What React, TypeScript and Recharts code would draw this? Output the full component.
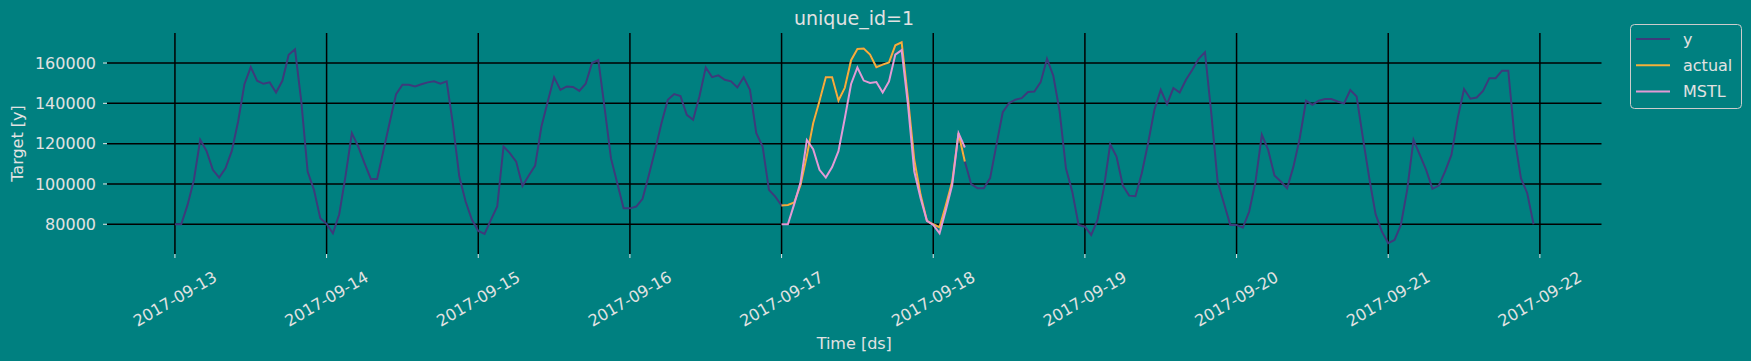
import React from 'react';
import { LineChart, Line, XAxis, YAxis, CartesianGrid, Legend } from 'recharts';

// ---------- data ----------
const seriesStart = '2017-09-13T00:00:00Z';
const forecastStart = '2017-09-17T00:00:00Z';

// hourly target values, 2017-09-13 00:00 .. 2017-09-21 23:00
const yValues: number[] = [
  // 09-13
  80000, 80000, 89600, 102000, 121900, 116400, 107000, 103200, 107800, 116400, 131000, 149500,
  158000, 151200, 149700, 150400, 145400, 151200, 164100, 166800, 140900, 106200, 97100, 83000,
  // 09-14
  80200, 75500, 85000, 104000, 125200, 118600, 110300, 102500, 102500, 116600, 130700, 144600,
  149200, 149200, 148400, 149500, 150400, 150900, 149700, 150900, 129400, 103700, 91300, 82200,
  // 09-15
  76700, 75200, 82200, 88800, 118600, 115300, 111100, 99000, 104200, 109100, 128500, 140900,
  152900, 146700, 148400, 148100, 146200, 149700, 160000, 161500, 137600, 112800, 100400, 87900,
  // 09-16
  87900, 88800, 92600, 104500, 116900, 130200, 141800, 144600, 143600, 134300, 131800, 143400,
  157800, 153000, 153900, 151700, 150900, 147900, 152900, 146700, 125200, 118600, 97100, 93700,
  // 09-17
  89300, 89600, 90800, 99500, 114000, 130100, 141200, 152900, 152900, 141400, 147700, 161400,
  167000, 167200, 164200, 157900, 159200, 160300, 168800, 170300, 142600, 112000, 94600, 81700,
  // 09-18
  80000, 78500, 89600, 101200, 125200, 111100, 99900, 97900, 97900, 102900, 119400, 135600,
  140100, 141800, 142600, 145600, 145900, 150500, 162100, 153700, 136000, 107800, 96200, 79700,
  // 09-19
  78800, 74700, 82200, 97900, 119700, 113600, 99200, 94200, 93900, 105300, 120200, 136800,
  146700, 139600, 147600, 145400, 151700, 156700, 162100, 165400, 135100, 101200, 90400, 79700,
  // 09-20
  79700, 78300, 86300, 101200, 124400, 116900, 104200, 101200, 97900, 108600, 122700, 141300,
  139300, 141300, 142100, 142100, 140900, 139900, 146600, 143400, 122700, 102900, 85000, 76400,
  // 09-21
  70600, 72200, 79700, 97100, 121900, 114400, 107000, 97600, 99200, 106200, 114400, 132700,
  147100, 142300, 142900, 146200, 152500, 152500, 156200, 156200, 122700, 102900, 95400, 80000,
];

// hourly actual values, 2017-09-17 00:00 .. 2017-09-18 05:00
const actualValues: number[] = [
  89300, 89600, 90800, 99500, 114000, 130100, 141200, 152900, 152900, 141400, 147700, 161400,
  167000, 167200, 164200, 157900, 159200, 160300, 168800, 170300, 142600, 112000, 94600, 81700,
  80000, 78500, 89600, 101200, 125200, 111100,
];

// hourly MSTL forecast, 2017-09-17 00:00 .. 2017-09-18 05:00
const mstlValues: number[] = [
  80000, 80000, 90000, 100800, 121800, 117300, 107000, 103200, 108400, 116300, 132500, 149600,
  157800, 151300, 150100, 150600, 145400, 150900, 164200, 166400, 139300, 106200, 92900, 81700,
  79700, 75500, 87100, 99500, 125200, 118100,
];

const xTickLabels = [
  '2017-09-13', '2017-09-14', '2017-09-15', '2017-09-16', '2017-09-17',
  '2017-09-18', '2017-09-19', '2017-09-20', '2017-09-21', '2017-09-22',
];
const yTickValues = [80000, 100000, 120000, 140000, 160000];

const seriesNames = ['y', 'actual', 'MSTL'];
const seriesColors = ['#3d3a7b', '#f2b13a', '#e39ad6'];

// ---------- build table ----------
const HOUR = 3600 * 1000;
const t0 = Date.parse(seriesStart);
const f0 = Date.parse(forecastStart);
const fIdx = Math.round((f0 - t0) / HOUR);

const rows = yValues.map((v, i) => {
  const j = i - fIdx;
  return {
    ds: t0 + i * HOUR,
    y: v,
    actual: j >= 0 && j < actualValues.length ? actualValues[j] : null,
    mstl: j >= 0 && j < mstlValues.length ? mstlValues[j] : null,
  };
});

const tFirst = rows[0].ds;
const tLast = rows[rows.length - 1].ds;
const pad = (tLast - tFirst) * 0.05;
const xDomain = [tFirst - pad, tLast + pad];
const xTicks = xTickLabels.map((s) => Date.parse(s + 'T00:00:00Z'));

const TEXT = '#e2e2e2';
const BG = '#008080';
const FONT = '"DejaVu Sans", sans-serif';

const fmtDate = (v: number) => new Date(v).toISOString().slice(0, 10);

const XTick = (props: any) => {
  const { x, y, payload } = props;
  const cy = y + 41;
  return (
    <text
      x={x}
      y={cy}
      fill={TEXT}
      fontSize={16}
      fontFamily={FONT}
      textAnchor="middle"
      dominantBaseline="central"
      transform={`rotate(-30, ${x}, ${cy})`}
    >
      {fmtDate(payload.value)}
    </text>
  );
};

const LegendBox = () => {
  const items = seriesNames.map((n, i) => ({ name: n, color: seriesColors[i] }));
  return (
    <svg width={112} height={86} style={{ display: 'block' }}>
      <rect x={0.5} y={0.5} width={111} height={84} rx={4} ry={4} fill={BG} stroke="#cccccc" strokeWidth={1} />
      {items.map((it, i) => {
        const cy = 15 + i * 26.3;
        return (
          <g key={it.name}>
            <line x1={6} x2={40} y1={cy} y2={cy} stroke={it.color} strokeWidth={2} />
            <text x={53} y={cy} fill={TEXT} fontSize={16} fontFamily={FONT} dominantBaseline="central">
              {it.name}
            </text>
          </g>
        );
      })}
    </svg>
  );
};

export default function App() {
  return (
    <div
      style={{
        position: 'absolute',
        left: 0,
        top: 0,
        width: 1751,
        height: 361,
        background: BG,
        fontFamily: FONT,
        overflow: 'hidden',
      }}
    >
      <LineChart
        width={1751}
        height={361}
        data={rows}
        margin={{ top: 33, right: 149.5, bottom: 0, left: 0 }}
      >
        <CartesianGrid
          stroke="#000000"
          strokeWidth={1.5}
          horizontalValues={yTickValues}
          verticalValues={xTicks}
        />
        <XAxis
          dataKey="ds"
          type="number"
          scale="linear"
          domain={xDomain}
          ticks={xTicks}
          allowDataOverflow
          height={107}
          axisLine={false}
          tickLine={{ stroke: TEXT, strokeWidth: 1 }}
          tickSize={4}
          tickMargin={0}
          tick={<XTick />}
          interval={0}
          label={{
            value: 'Time [ds]',
            position: 'insideBottom',
            offset: 12,
            fill: TEXT,
            fontSize: 16,
            fontFamily: FONT,
          }}
        />
        <YAxis
          type="number"
          domain={[65250, 174900]}
          ticks={yTickValues}
          allowDataOverflow
          width={107}
          axisLine={false}
          tickLine={{ stroke: TEXT, strokeWidth: 1 }}
          tickSize={4}
          tickMargin={7}
          tick={{ fill: TEXT, fontSize: 16, fontFamily: FONT }}
          interval={0}
          label={{
            value: 'Target [y]',
            angle: -90,
            position: 'insideLeft',
            offset: 17,
            fill: TEXT,
            fontSize: 16,
            fontFamily: FONT,
            style: { textAnchor: 'middle' },
          }}
        />
        <Line
          dataKey="y"
          name={seriesNames[0]}
          stroke={seriesColors[0]}
          strokeWidth={2}
          dot={false}
          activeDot={false}
          type="linear"
          isAnimationActive={false}
        />
        <Line
          dataKey="actual"
          name={seriesNames[1]}
          stroke={seriesColors[1]}
          strokeWidth={2}
          dot={false}
          activeDot={false}
          type="linear"
          connectNulls={false}
          isAnimationActive={false}
        />
        <Line
          dataKey="mstl"
          name={seriesNames[2]}
          stroke={seriesColors[2]}
          strokeWidth={2}
          dot={false}
          activeDot={false}
          type="linear"
          connectNulls={false}
          isAnimationActive={false}
        />
        <Legend
          layout="vertical"
          align="center"
          verticalAlign="middle"
          content={<LegendBox />}
          wrapperStyle={{ position: 'absolute', left: 1630, top: 24, width: 112, height: 86 }}
        />
        <text
          x={854}
          y={25}
          fill={TEXT}
          fontSize={19}
          fontFamily={FONT}
          textAnchor="middle"
        >
          unique_id=1
        </text>
      </LineChart>
    </div>
  );
}
